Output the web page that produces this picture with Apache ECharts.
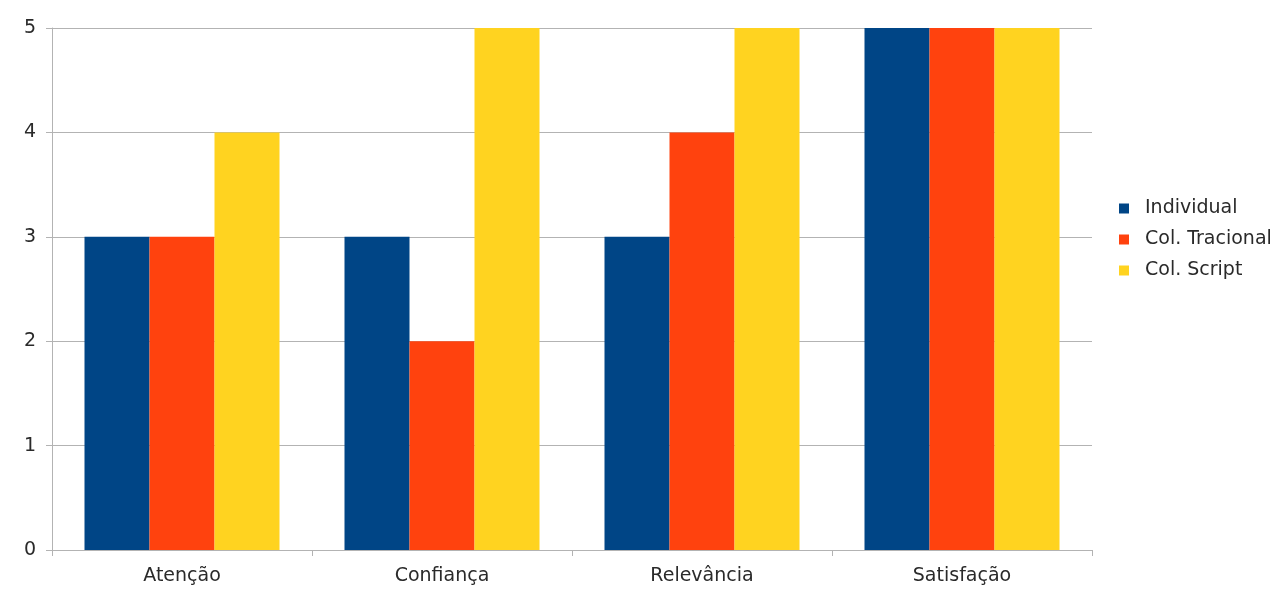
<!DOCTYPE html>
<html><head><meta charset="utf-8">
<script src="https://cdn.jsdelivr.net/npm/echarts@6/dist/echarts.min.js"></script>
<style>html,body{margin:0;padding:0;background:#fff}#c{width:1282px;height:594px}</style>
</head><body><div id="c"></div>
<script>
const categories = ['Atenção', 'Confiança', 'Relevância', 'Satisfação'];
const individual = [3, 3, 3, 5];
const colTracional = [3, 2, 4, 5];
const colScript = [4, 5, 5, 5];
const yTicks = [0, 1, 2, 3, 4, 5];

const chart = echarts.init(document.getElementById('c'));
const font = 'DejaVu Sans, sans-serif';
chart.setOption({
  animation: false,
  color: ['#004586', '#ff420e', '#ffd320'],
  grid: { left: 52, right: 190, top: 28, bottom: 44, containLabel: false },
  legend: {
    orient: 'vertical', left: 1119, top: 199, padding: 0, itemWidth: 10, itemHeight: 10, itemGap: 12,
    icon: 'rect',
    textStyle: { fontFamily: font, fontSize: 19, color: '#2a2a2a', padding: [0,0,0,11] },
    data: ['Individual', 'Col. Tracional', 'Col. Script']
  },
  xAxis: {
    type: 'category', data: categories,
    axisLine: { lineStyle: { color: '#b3b3b3' } },
    axisTick: { show: true, length: 6, lineStyle: { color: '#b3b3b3' } },
    axisLabel: { fontFamily: font, fontSize: 19, color: '#2a2a2a', margin: 17 }
  },
  yAxis: {
    type: 'value', min: yTicks[0], max: yTicks[yTicks.length-1], interval: 1,
    axisLine: { show: true, lineStyle: { color: '#b3b3b3' } },
    axisTick: { show: true, length: 6, lineStyle: { color: '#b3b3b3' } },
    splitLine: { lineStyle: { color: '#b3b3b3' } },
    axisLabel: { fontFamily: font, fontSize: 19, color: '#2a2a2a', margin: 16 }
  },
  series: [
    { name: 'Individual', type: 'bar', data: individual, barGap: '0%', barCategoryGap: '25%' },
    { name: 'Col. Tracional', type: 'bar', data: colTracional, barGap: '0%', barCategoryGap: '25%' },
    { name: 'Col. Script', type: 'bar', data: colScript, barGap: '0%', barCategoryGap: '25%' }
  ]
});
</script></body></html>
